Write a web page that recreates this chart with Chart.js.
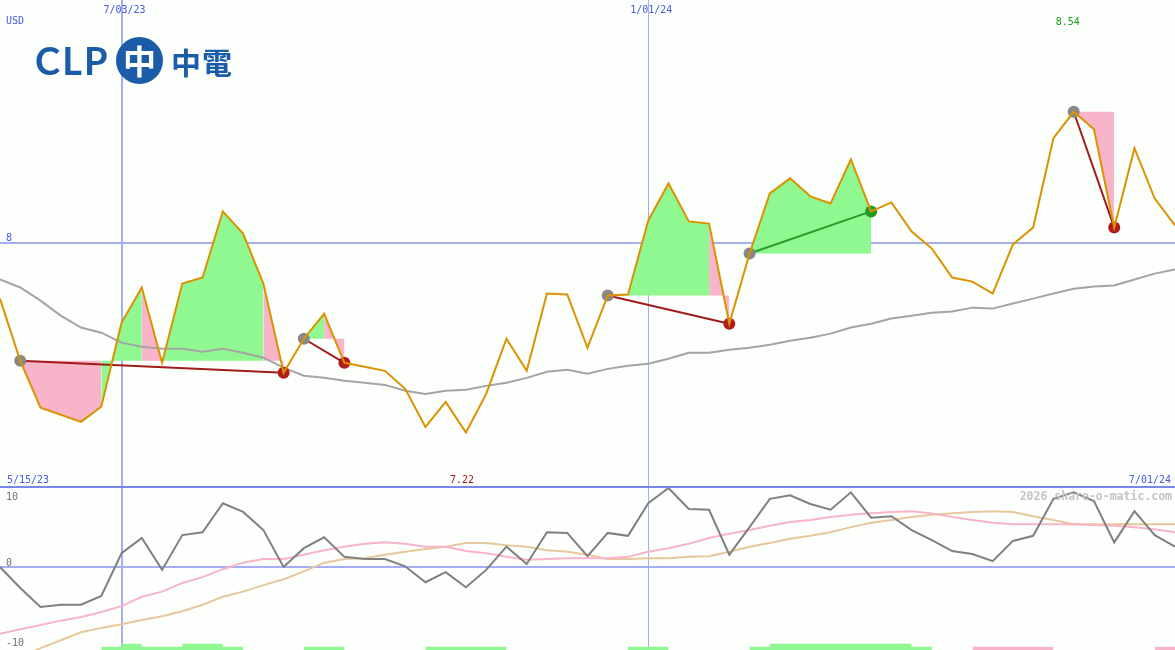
<!DOCTYPE html>
<html lang="en">
<head>
<meta charset="UTF-8">
<title>CLP Holdings - weekly</title>
<script src="https://cdn.jsdelivr.net/npm/chart.js@4"></script>
<style>
  body { margin: 0; background: #fcfffc; }
  #wrap { position: relative; width: 1175px; height: 650px; overflow: hidden; background: #fcfffc; }
  #priceCanvas { position: absolute; left: 0; top: 0; }
  #oscCanvas { position: absolute; left: 0; top: 488px; }
  .sep { position: absolute; left: 0; top: 486px; width: 1175px; height: 2px; background: #7888e8; }
  .logo-clp { position: absolute; left: 35px; top: 35px; font: 700 38px Lato, sans-serif; color: #1b5ca8; letter-spacing: 2px; line-height: 50px; }
  .logo-dot { position: absolute; left: 116px; top: 37px; width: 47px; height: 47px; border-radius: 50%; background: #1b5ca8;
              color: #fff; font: 700 33px "Noto Sans CJK TC", sans-serif; text-align: center; line-height: 47px; }
  .logo-zh { position: absolute; left: 171px; top: 38px; font: 700 30px "Noto Sans CJK TC", sans-serif; color: #1b5ca8; line-height: 46px; letter-spacing: 1px; }
</style>
</head>
<body>
<div id="wrap">
  <canvas id="priceCanvas" width="1175" height="486"></canvas>
  <div class="sep"></div>
  <canvas id="oscCanvas" width="1175" height="162"></canvas>
  <div class="logo-clp">CLP</div>
  <div class="logo-dot">中</div>
  <div class="logo-zh">中電</div>
</div>

<script>
// weekly closes, USD (week 0 .. 58)
const price = [7.771, 7.515, 7.322, 7.293, 7.264, 7.326, 7.672, 7.817, 7.507, 7.833,
               7.858, 8.130, 8.039, 7.833, 7.466, 7.606, 7.709, 7.507, 7.491, 7.474,
               7.400, 7.243, 7.346, 7.220, 7.379, 7.606, 7.474, 7.792, 7.788, 7.569,
               7.784, 7.788, 8.093, 8.245, 8.089, 8.080, 7.668, 7.957, 8.204, 8.266,
               8.192, 8.163, 8.344, 8.130, 8.167, 8.047, 7.977, 7.858, 7.841, 7.792,
               7.994, 8.064, 8.431, 8.540, 8.468, 8.064, 8.390, 8.183, 8.072];
const avg = [7.850, 7.817, 7.763, 7.701, 7.652, 7.631, 7.590, 7.573, 7.565, 7.565,
             7.553, 7.565, 7.548, 7.528, 7.487, 7.454, 7.445, 7.433, 7.425, 7.416,
             7.392, 7.379, 7.392, 7.396, 7.412, 7.425, 7.445, 7.470, 7.478, 7.462,
             7.482, 7.495, 7.503, 7.524, 7.548, 7.548, 7.561, 7.569, 7.581, 7.598,
             7.610, 7.627, 7.652, 7.668, 7.689, 7.701, 7.713, 7.718, 7.734, 7.730,
             7.751, 7.771, 7.792, 7.812, 7.821, 7.825, 7.850, 7.874, 7.891];

// lower panel
const momentum = [0, -2.9, -5.5, -5.2, -5.2, -4.0, 1.9, 4.0, -0.4, 4.4,
                  4.8, 8.8, 7.6, 5.1, 0, 2.6, 4.1, 1.4, 1.1, 1.1,
                  0.1, -2.1, -0.7, -2.8, -0.4, 2.8, 0.4, 4.8, 4.7, 1.5,
                  4.7, 4.3, 8.8, 10.9, 8.0, 7.9, 1.7, 5.5, 9.4, 9.9,
                  8.7, 7.9, 10.3, 6.8, 7.0, 5.1, 3.7, 2.2, 1.8, 0.8,
                  3.6, 4.3, 9.4, 10.3, 9.1, 3.4, 7.7, 4.4, 2.8];
const fastAvg = [-9.2, -8.6, -8.0, -7.4, -6.9, -6.2, -5.4, -4.1, -3.4, -2.2,
                 -1.4, -0.3, 0.6, 1.1, 1.1, 1.7, 2.3, 2.8, 3.2, 3.4,
                 3.2, 2.8, 2.8, 2.2, 1.9, 1.4, 1.0, 1.1, 1.2, 1.2,
                 1.2, 1.4, 2.1, 2.6, 3.2, 4.0, 4.6, 5.1, 5.7, 6.2,
                 6.5, 6.9, 7.2, 7.4, 7.6, 7.7, 7.4, 6.9, 6.5, 6.1,
                 5.9, 5.9, 5.9, 5.9, 5.8, 5.7, 5.5, 5.2, 4.8];
const slowAvg = [-13.5, -12.4, -11.2, -10.1, -9.0, -8.4, -7.9, -7.3, -6.8, -6.1,
                 -5.2, -4.1, -3.4, -2.5, -1.7, -0.6, 0.6, 1.1, 1.2, 1.7,
                 2.1, 2.5, 2.8, 3.3, 3.3, 3.0, 2.8, 2.3, 2.1, 1.7,
                 1.1, 1.1, 1.2, 1.2, 1.4, 1.5, 2.1, 2.8, 3.3, 3.9,
                 4.3, 4.8, 5.5, 6.1, 6.5, 6.9, 7.2, 7.4, 7.6, 7.7,
                 7.6, 7.0, 6.5, 5.9, 5.9, 5.9, 5.9, 5.9, 5.9];

// trades: entry week, exit week
const tradeEntry = [1, 15, 30, 37, 53];
const tradeExit = [14, 17, 36, 43, 55];
// shaded spans inside trades: [from, to, 'up'|'down']
const shadeSpans = [[1, 5, 'down'], [5, 7, 'up'], [7, 8, 'down'], [8, 13, 'up'], [13, 14, 'down'],
                    [15, 16, 'up'], [16, 17, 'down'], [30, 35, 'up'], [35, 36, 'down'],
                    [37, 43, 'up'], [53, 55, 'down']];
// signal strip at the bottom: [from, to, level(1|2), 'up'|'down']
const signalSpans = [[5, 12, 1, 'up'], [6, 7, 2, 'up'], [9, 11, 2, 'up'], [15, 17, 1, 'up'], [21, 25, 1, 'up'],
                     [31, 33, 1, 'up'], [37, 46, 1, 'up'], [38, 45, 2, 'up'], [48, 52, 1, 'down'], [57, 58, 1, 'down']];

// date ticks
const tickWeeks = [6, 32];
const tickLabels = ['7/03/23', '1/01/24'];
const firstLabel = '5/15/23';
const lastLabel = '7/01/24';

const GREEN = '#90f890', PINK = '#f8b4c8';
const GRID = '#a4aef0', TXT = '#4858e8';
const FONT = '10px "DejaVu Sans Mono", monospace';

const pts = arr => arr.map((v, i) => ({ x: i, y: v }));

const guides = {
  id: 'guides',
  beforeDatasetsDraw(chart, args, o) {
    const { ctx, chartArea: a, scales: { x, y } } = chart;
    ctx.save();
    (o.hLines || []).forEach(h => {
      const py = Math.round(y.getPixelForValue(h.value));
      ctx.strokeStyle = h.color; ctx.lineWidth = h.width;
      ctx.beginPath(); ctx.moveTo(a.left, py); ctx.lineTo(a.right, py); ctx.stroke();
    });
    (o.vLines || []).forEach(v => {
      let px = Math.round(x.getPixelForValue(v.week));
      if (v.width % 2) px += 0.5;
      ctx.strokeStyle = v.color; ctx.lineWidth = v.width;
      ctx.beginPath(); ctx.moveTo(px, a.top); ctx.lineTo(px, a.bottom); ctx.stroke();
    });
    ctx.restore();
  },
  afterDatasetsDraw(chart, args, o) {
    const { ctx, chartArea: a, scales: { x } } = chart;
    ctx.save();
    (o.labels || []).forEach(l => {
      ctx.font = l.font || FONT;
      ctx.fillStyle = l.color || TXT;
      ctx.textAlign = l.align || 'left';
      ctx.textBaseline = 'alphabetic';
      let px = l.week !== undefined ? x.getPixelForValue(l.week) : (l.align === 'right' ? a.right : a.left);
      ctx.fillText(l.text, px + (l.dx || 0), l.y);
    });
    ctx.restore();
  }
};

const xAxis = { type: 'linear', min: 0, max: price.length - 1, display: false };
const baseOpts = {
  responsive: false, animation: false, devicePixelRatio: 1,
  layout: { padding: 0, autoPadding: false },
  elements: { line: { tension: 0 }, point: { radius: 0 } },
  events: []
};

// ---- price panel ----
const priceSets = [];
priceSets.push({ data: pts(price), borderColor: '#dc9200', borderWidth: 2, order: 0 });

tradeEntry.forEach((e, k) => {
  const x2 = tradeExit[k];
  const win = price[x2] > price[e];
  priceSets.push({
    data: [{ x: e, y: price[e] }, { x: x2, y: price[x2] }],
    borderColor: win ? '#2a9a2a' : '#a01c1c', borderWidth: 2,
    pointRadius: 6, pointBorderWidth: 0,
    pointBackgroundColor: ['#888888', win ? '#229a22' : '#b01c1c'],
    order: 1
  });
});

priceSets.push({ data: pts(avg), borderColor: '#a4a4a4', borderWidth: 2, order: 2 });

shadeSpans.forEach(([a, b, dir]) => {
  const k = tradeEntry.findIndex((e, j) => a >= e && b <= tradeExit[j]);
  const data = [];
  for (let i = a; i <= b; i++) data.push({ x: i, y: price[i] });
  priceSets.push({
    data, borderWidth: 0, fill: { value: price[tradeEntry[k]] },
    backgroundColor: dir === 'up' ? GREEN : PINK, order: 3
  });
});

const hiIdx = price.indexOf(Math.max(...price));
const loIdx = price.indexOf(Math.min(...price));

new Chart(document.getElementById('priceCanvas'), {
  type: 'line',
  data: { datasets: priceSets },
  options: {
    ...baseOpts,
    scales: { x: xAxis, y: { min: 7, max: 9, display: false } },
    plugins: {
      legend: { display: false }, tooltip: { enabled: false },
      guides: {
        hLines: [{ value: 8, color: GRID, width: 2 }],
        vLines: [{ week: tickWeeks[0], color: GRID, width: 2 }, { week: tickWeeks[1], color: GRID, width: 1 }],
        labels: [
          { text: 'USD', y: 24, dx: 6 },
          { text: tickLabels[0], week: tickWeeks[0], align: 'center', dx: 3, y: 13 },
          { text: tickLabels[1], week: tickWeeks[1], align: 'center', dx: 3, y: 13 },
          { text: '8', y: 241, dx: 6 },
          { text: price[hiIdx].toFixed(2), week: hiIdx, align: 'center', dx: -6, y: 25, color: '#1a9a1a' },
          { text: price[loIdx].toFixed(2), week: loIdx, align: 'center', dx: -4, y: 483, color: '#a01818' },
          { text: firstLabel, y: 483, dx: 7 },
          { text: lastLabel, align: 'right', y: 483, dx: -4 }
        ]
      }
    }
  },
  plugins: [guides]
});

// ---- lower panel ----
const oscSets = [
  { data: pts(momentum), borderColor: '#808080', borderWidth: 2, order: 0 },
  { data: pts(fastAvg), borderColor: '#f8b4c8', borderWidth: 2, order: 1 },
  { data: pts(slowAvg), borderColor: '#e6c89c', borderWidth: 2, order: 2 }
];
signalSpans.forEach(([a, b, lvl, dir]) => {
  const h = lvl === 2 ? -10.6 : -11.0;
  oscSets.push({
    data: [{ x: a, y: h }, { x: b, y: h }], borderWidth: 0, fill: 'start',
    backgroundColor: dir === 'up' ? GREEN : PINK, order: 3
  });
});

new Chart(document.getElementById('oscCanvas'), {
  type: 'line',
  data: { datasets: oscSets },
  options: {
    ...baseOpts,
    scales: { x: xAxis, y: { min: -11.45, max: 10.9, display: false } },
    plugins: {
      legend: { display: false }, tooltip: { enabled: false },
      guides: {
        hLines: [{ value: 0, color: GRID, width: 2 }],
        vLines: [{ week: tickWeeks[0], color: GRID, width: 2 }, { week: tickWeeks[1], color: GRID, width: 1 }],
        labels: [
          { text: '10', y: 12, dx: 6, color: '#707070' },
          { text: '0', y: 78, dx: 6, color: '#707070' },
          { text: '-10', y: 158, dx: 6, color: '#707070' },
          { text: '2026 share-o-matic.com', align: 'right', y: 12, dx: -3, color: '#c4c4c4',
            font: 'bold 11.5px "DejaVu Sans Mono", monospace' }
        ]
      }
    }
  },
  plugins: [guides]
});
</script>
</body>
</html>
